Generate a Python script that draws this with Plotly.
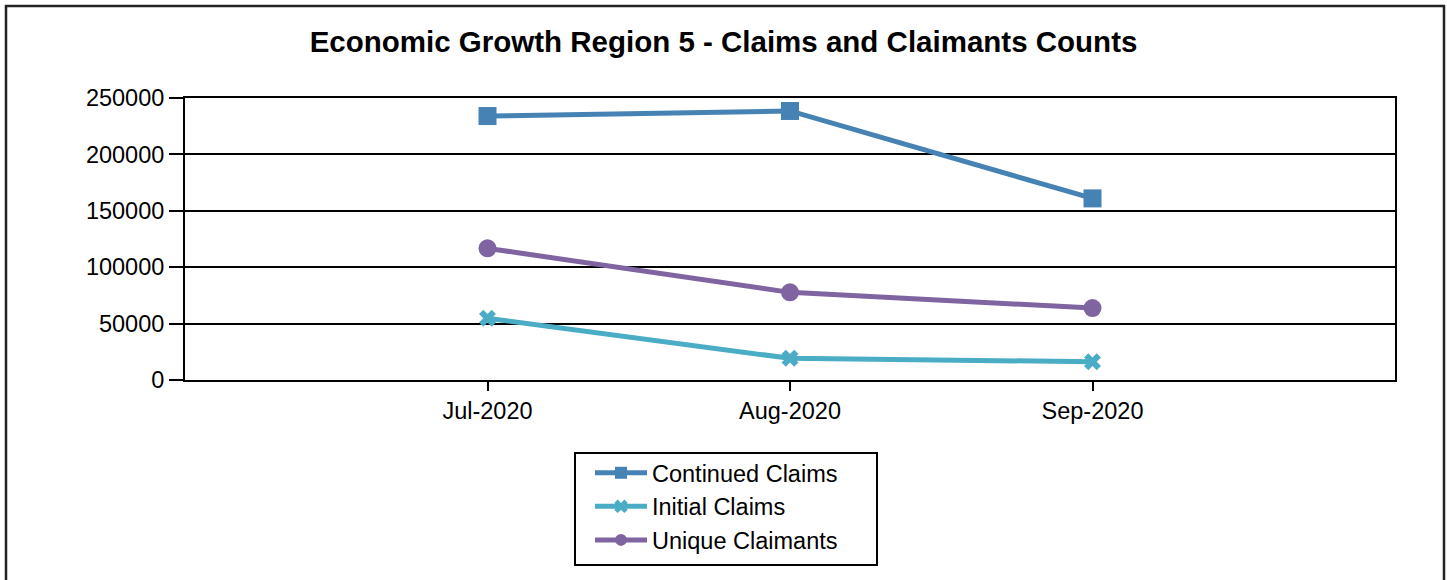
import plotly.graph_objects as go

months = ["Jul-2020", "Aug-2020", "Sep-2020"]
continued_claims = [234000, 238500, 161000]
initial_claims = [54700, 19200, 16200]
unique_claimants = [116700, 77700, 63800]
y_ticks = [0, 50000, 100000, 150000, 200000, 250000]

fig = go.Figure()
fig.add_trace(go.Scatter(x=months, y=continued_claims, name="Continued Claims", mode="lines+markers",
                         line=dict(color="#4682B4", width=5),
                         marker=dict(symbol="square", size=18, color="#4682B4")))
fig.add_trace(go.Scatter(x=months, y=initial_claims, name="Initial Claims", mode="lines+markers",
                         line=dict(color="#4BACC6", width=5),
                         marker=dict(symbol="x", size=15, color="#4BACC6")))
fig.add_trace(go.Scatter(x=months, y=unique_claimants, name="Unique Claimants", mode="lines+markers",
                         line=dict(color="#8064A2", width=5),
                         marker=dict(symbol="circle", size=18, color="#8064A2")))

def px_x(p):
    return (p - 185) / 1210

def px_y(p):
    return (380 - p) / 282

fig.update_layout(
    width=1447, height=580,
    margin=dict(l=185, r=52, t=98, b=200),
    paper_bgcolor="white", plot_bgcolor="white",
    font=dict(family="Liberation Sans, Arial, sans-serif", size=23.5, color="black"),
    title=dict(text="<b>Economic Growth Region 5 - Claims and Claimants Counts</b>",
               x=0.5, xanchor="center", y=1 - 42 / 580, yanchor="middle",
               font=dict(size=29.5, color="black")),
    showlegend=True,
    legend=dict(x=px_x(590), y=px_y(451), xanchor="left", yanchor="top",
                borderwidth=0, bgcolor="rgba(0,0,0,0)", itemwidth=52, itemsizing="constant",
                font=dict(size=23.5), tracegroupgap=0),
)
fig.update_xaxes(type="category", categoryorder="array", categoryarray=months,
                 range=[-1, 3], showline=True, linecolor="black", linewidth=2, mirror=True,
                 ticks="outside", ticklen=9, tickwidth=2, tickcolor="black",
                 showgrid=False, zeroline=False)
fig.update_yaxes(range=[0, 250000], tickvals=y_ticks, ticktext=[str(v) for v in y_ticks],
                 showline=True, linecolor="black", linewidth=2, mirror=True,
                 ticks="outside", ticklen=14, tickwidth=2, tickcolor="black",
                 showgrid=True, gridcolor="black", gridwidth=1.8, zeroline=False)

# outer chart border
fig.add_shape(type="rect", xref="paper", yref="paper",
              x0=px_x(6), x1=px_x(1444), y0=px_y(600), y1=px_y(6),
              line=dict(color="#222222", width=2.5), fillcolor="rgba(0,0,0,0)", layer="below")
# legend box
fig.add_shape(type="rect", xref="paper", yref="paper",
              x0=px_x(575), x1=px_x(877), y0=px_y(565), y1=px_y(453),
              line=dict(color="black", width=2), fillcolor="rgba(0,0,0,0)", layer="below")

fig.write_html("out.html", config={"displayModeBar": False},
               post_script="document.body.style.margin='0';document.body.style.overflow='hidden';")
